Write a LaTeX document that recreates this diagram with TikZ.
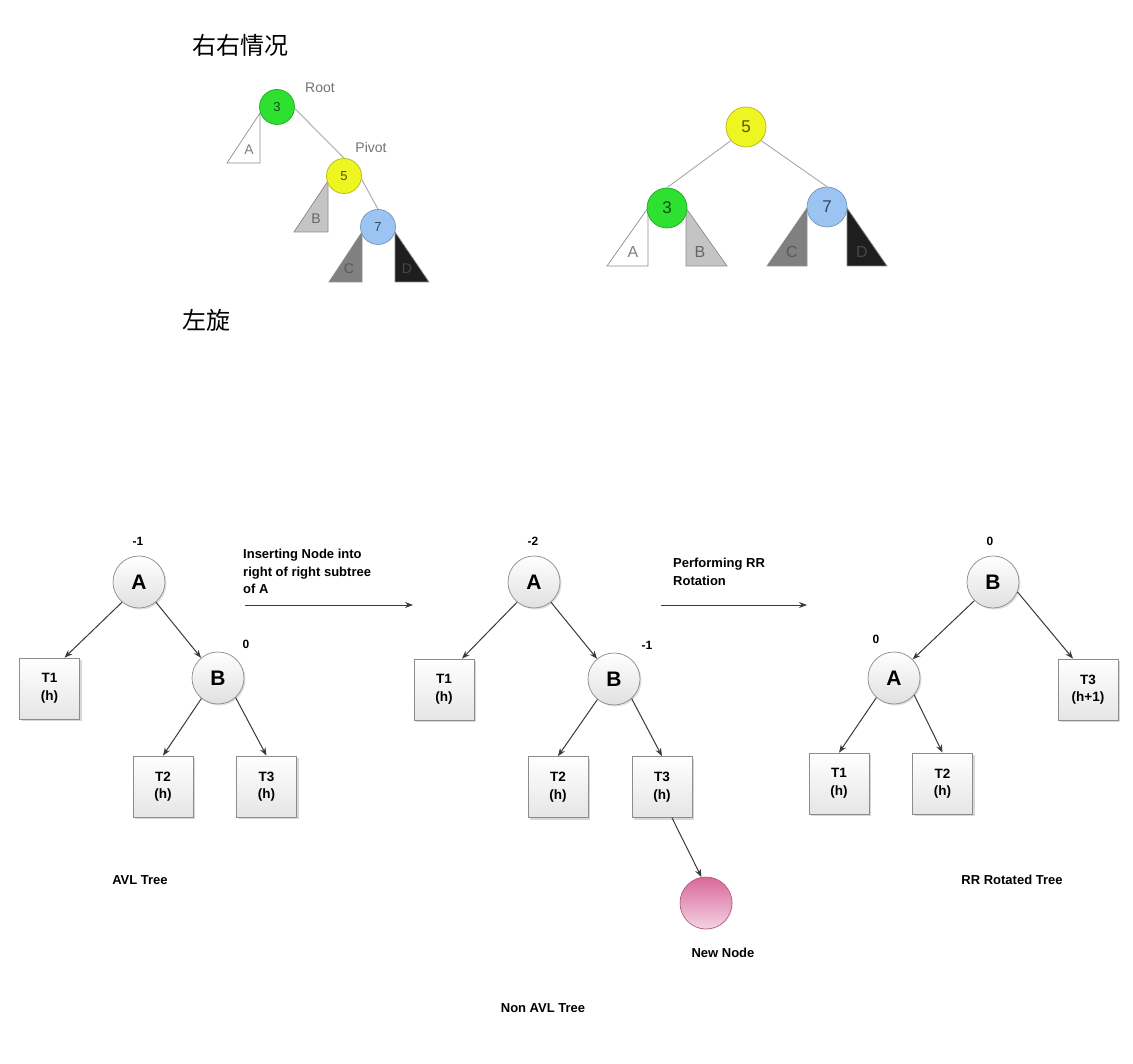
\documentclass[tikz,border=0pt]{standalone}
\usepackage{fontspec}
\setmainfont{Liberation Sans}
\newfontfamily\cjk{Noto Sans CJK SC}
\usetikzlibrary{shadows,arrows.meta}
\definecolor{gfill}{HTML}{2EE030}
\definecolor{yfill}{HTML}{EEF520}
\definecolor{bfill}{HTML}{9CC4F2}
\definecolor{triA}{HTML}{FFFFFF}
\definecolor{triB}{HTML}{C4C4C4}
\definecolor{triC}{HTML}{808080}
\definecolor{triD}{HTML}{1E1E1E}
\definecolor{edgegray}{HTML}{A8A8A8}
\definecolor{arrowgray}{HTML}{3A3A3A}
\definecolor{pinktop}{HTML}{D9689A}
\definecolor{pinkbot}{HTML}{F4D2E3}
\begin{document}
\begin{tikzpicture}[x=1pt,y=-1pt,
  cnode/.style={circle, draw=#1!75!black, fill=#1, inner sep=0pt, line width=0.7pt, text=#1!35!black},
  smallc/.style={cnode=#1, minimum size=35pt, font=\fontsize{13}{13}\selectfont},
  bigc/.style={cnode=#1, minimum size=40pt, font=\fontsize{17}{17}\selectfont},
  treeedge/.style={draw=edgegray, line width=0.9pt},
  tri/.style={draw=gray!90, line width=0.7pt, fill=#1},
  trilabel/.style={font=\fontsize{14}{14}\selectfont, inner sep=0pt},
  tag/.style={font=\fontsize{14}{14}\selectfont, text=black!55, inner sep=0pt},
  cjktitle/.style={font=\cjk\fontsize{24}{24}\selectfont, inner sep=0pt, anchor=west},
  avlc/.style={circle, draw=black!45, top color=white, bottom color=black!12, minimum size=52pt, inner sep=0pt,
    font=\bfseries\fontsize{21}{21}\selectfont, line width=0.7pt,
    drop shadow={shadow xshift=1.5pt, shadow yshift=-1.5pt, opacity=0.25}},
  avlbox/.style={rectangle, draw=black!45, top color=white, bottom color=black!10, minimum width=60pt, minimum height=61pt,
    inner sep=0pt, align=center, font=\bfseries\fontsize{13.5}{17.5}\selectfont, line width=0.7pt,
    drop shadow={shadow xshift=2pt, shadow yshift=-2pt, opacity=0.3}},
  bal/.style={font=\bfseries\fontsize{12}{12}\selectfont, inner sep=0pt},
  caption/.style={font=\bfseries\fontsize{13}{17.5}\selectfont, inner sep=0pt, align=left},
  arr/.style={draw=arrowgray, line width=1pt, -{Stealth[length=8pt,width=6pt]}}
]
\useasboundingbox[fill=white] (0,0) rectangle (1133,1064);

% ---------- top-left: RR case ----------
\node[cjktitle] (title1) at (192,45) {右右情况};
\node[cjktitle] (title2) at (182,320) {左旋};

\path[tri=triA] (227,163) -- (260,163) -- (260,113) -- cycle;
\path[tri=triB] (294,232) -- (328,232) -- (328,181) -- cycle;
\path[tri=triC] (329,282) -- (362,282) -- (362,232) -- cycle;
\path[tri=triD] (395,282) -- (429,282) -- (395,232) -- cycle;
\node[trilabel, text=black!50] (la) at (249,150) {A};
\node[trilabel, text=black!60] (lb) at (316,219) {B};
\node[trilabel, text=black!65] (lc) at (349,269) {C};
\node[trilabel, text=black!72] (ld) at (407,269) {D};

\node[smallc=gfill] (n3) at (277,107) {3};
\node[smallc=yfill] (n5) at (344,176) {5};
\node[smallc=bfill] (n7) at (378,227) {7};
\draw[treeedge] (n3.-5) -- (n5.north);
\draw[treeedge] (n5.-10) -- (n7.north);
\node[tag] (root) at (320,88) {Root};
\node[tag] (pivot) at (371,147) {Pivot};

% ---------- top-right: after left rotation ----------
\path[tri=triA] (607,266) -- (648,266) -- (648,208) -- cycle;
\path[tri=triB] (686,266) -- (727,266) -- (686,208) -- cycle;
\path[tri=triC] (767,266) -- (807,266) -- (807,208) -- cycle;
\path[tri=triD] (847,266) -- (887,266) -- (847,208) -- cycle;
\node[trilabel, text=black!50, font=\fontsize{16}{16}\selectfont] (ra) at (633,252) {A};
\node[trilabel, text=black!60, font=\fontsize{16}{16}\selectfont] (rb) at (700,252) {B};
\node[trilabel, text=black!65, font=\fontsize{16}{16}\selectfont] (rc) at (792,252) {C};
\node[trilabel, text=black!72, font=\fontsize{16}{16}\selectfont] (rd) at (862,252) {D};

\node[bigc=yfill] (m5) at (746,127) {5};
\node[bigc=gfill] (m3) at (667,208) {3};
\node[bigc=bfill] (m7) at (827,207) {7};
\draw[treeedge] (m5.222) -- (m3.north);
\draw[treeedge] (m5.-42) -- (m7.north);

% ---------- bottom-left: AVL tree ----------
\node[avlc] (A1) at (139,582) {A};
\node[avlc] (B1) at (218,678) {B};
\node[avlbox] (T11) at (49.5,688.5) {T1\\(h)};
\node[avlbox] (T21) at (163,786.5) {T2\\(h)};
\node[avlbox] (T31) at (266.5,786.5) {T3\\(h)};
\node[bal] (b1a) at (138,541) {-1};
\node[bal] (b1b) at (246,644) {0};
\draw[arr] (A1.230) -- ([xshift=15pt]T11.north);
\draw[arr] (A1.-50) -- (B1.130);
\draw[arr] (B1.231) -- (T21.north);
\draw[arr] (B1.-48) -- (T31.north);
\node[caption] (cap1) at (140,880) {AVL Tree};

\node[caption, anchor=north west] (ins) at (243,549) {Inserting Node into\\right of right subtree\\of A};
\coordinate (s1) at (245,605);
\coordinate (e1) at (413,605);
\draw[arr] (s1) -- (e1);

% ---------- bottom-middle: non-AVL tree ----------
\node[avlc] (A2) at (534,582) {A};
\node[avlc] (B2) at (614,679) {B};
\node[avlbox] (T12) at (444,689.5) {T1\\(h)};
\node[avlbox] (T22) at (558,787) {T2\\(h)};
\node[avlbox] (T32) at (662,787) {T3\\(h)};
\node[circle, draw=pinktop!80!black, top color=pinktop, bottom color=pinkbot, minimum size=52pt, inner sep=0pt, line width=0.6pt,
  drop shadow={shadow xshift=1pt, shadow yshift=-1pt, opacity=0.15}] (NN) at (706,903) {};
\node[bal] (b2a) at (533,541) {-2};
\node[bal] (b2b) at (647,645) {-1};
\draw[arr] (A2.230) -- ([xshift=18pt]T12.north);
\draw[arr] (A2.-50) -- (B2.130);
\draw[arr] (B2.231) -- (T22.north);
\draw[arr] (B2.-48) -- (T32.north);
\draw[arr] ([xshift=10pt]T32.south) -- (NN.100);
\node[caption] (cap2) at (723,953) {New Node};
\node[caption] (cap3) at (543,1008) {Non AVL Tree};

\node[caption, anchor=north west] (perf) at (673,558) {Performing RR\\Rotation};
\coordinate (s2) at (661,605);
\coordinate (e2) at (807,605);
\draw[arr] (s2) -- (e2);

% ---------- bottom-right: RR rotated tree ----------
\node[avlc] (B3) at (993,582) {B};
\node[avlc] (A3) at (894,678) {A};
\node[avlbox] (T33) at (1088,689.5) {T3\\(h+1)};
\node[avlbox] (T13) at (839,783.5) {T1\\(h)};
\node[avlbox] (T23) at (942.5,783.5) {T2\\(h)};
\node[bal] (b3a) at (990,541) {0};
\node[bal] (b3b) at (876,639) {0};
\draw[arr] (B3.225) -- (A3.45);
\draw[arr] (B3.-22) -- ([xshift=-15pt]T33.north);
\draw[arr] (A3.228) -- (T13.north);
\draw[arr] (A3.-40) -- (T23.north);
\node[caption] (cap4) at (1012,880) {RR Rotated Tree};
\end{tikzpicture}
\end{document}
